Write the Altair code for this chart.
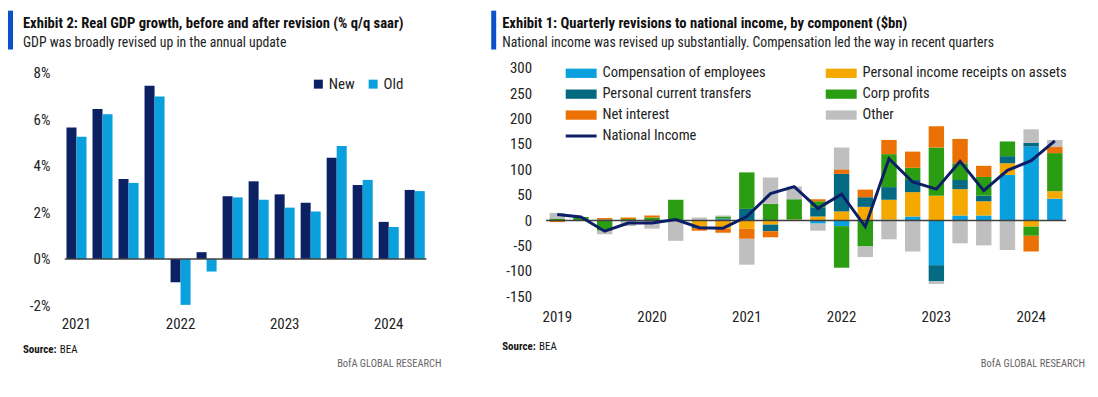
import altair as alt
import pandas as pd

FONT = "Liberation Sans Narrow, Arial Narrow, Roboto Condensed, sans-serif"

# ---------------- Left chart data: Real GDP growth (% q/q saar) ----------------
gdp_quarters = ["2021Q1", "2021Q2", "2021Q3", "2021Q4", "2022Q1", "2022Q2", "2022Q3",
                "2022Q4", "2023Q1", "2023Q2", "2023Q3", "2023Q4", "2024Q1", "2024Q2"]
gdp_new = [5.64, 6.43, 3.43, 7.43, -1.0, 0.29, 2.69, 3.33, 2.77, 2.41, 4.34, 3.17, 1.59, 2.96]
gdp_old = [5.24, 6.21, 3.26, 6.97, -1.97, -0.54, 2.64, 2.54, 2.2, 2.03, 4.84, 3.39, 1.37, 2.91]
gdp_series = ["New", "Old"]
gdp_colors = ["#0C2164", "#0AA0DE"]
gdp_ticks = [-2, 0, 2, 4, 6, 8]

# ---------------- Right chart data: revisions to national income ($bn) ----------------
ni_quarters = [f"{y}Q{q}" for y in range(2019, 2025) for q in range(1, 5)][:22]
comp_employees = [0, 0, 0, 0, 0, 0, 0, 2, 0, 0, 0, -6, -11, 0, 2, 8, -88, 10, 10, 90, 146, 43]
receipts_assets = [0, 0, 0, 0, 0, 0, -12, -16, -16, -8, 2, 8, 18, 27, 39, 48, 49, 52, 28, 23, -12, 15]
current_transfers = [0, 0, 2, 1, 1, 0, -3, 2, 23, -13, 0, 18, 74, 19, 25, 24, -32, 18, 11, 14, 7, 0]
corp_profits = [4, 7, -20, 2, 5, 41, 0, 4, 72, 33, 40, 12, -82, -51, 65, 24, 95, 33, 37, 29, -18, 75]
net_interest = [-3, 0, 3, 3, 4, -1, -5, -8, -20, -12, 0, 4, 9, 15, 28, 32, 42, 48, 22, 0, -31, 12]
other = [11, 0, -7, -11, -16, -39, 6, 2, -51, 52, 25, -14, 43, -21, -37, -61, -5, -45, -49, -58, 27, 14]
national_income = [12, 7, -21, -5, -5, 2, -14, -15, 8, 53, 67, 24, 52, -12, 122, 76, 62, 117, 59, 99, 118, 157]

# stacking order (from zero outwards)
components = ["Compensation of employees", "Personal income receipts on assets",
              "Personal current transfers", "Corp profits", "Net interest", "Other"]
component_values = [comp_employees, receipts_assets, current_transfers, corp_profits, net_interest, other]
component_colors = ["#0A9FDD", "#F5A800", "#046A82", "#2A9D12", "#EC7105", "#BFBFBF"]
# legend order (legend grid fills column by column)
legend_order = [0, 2, 4, 1, 3, 5]
line_name = "National Income"
line_color = "#0C1F66"
ni_ticks = [-150, -100, -50, 0, 50, 100, 150, 200, 250, 300]

left_title = "Exhibit 2: Real GDP growth, before and after revision (% q/q saar)"
left_sub = "GDP was broadly revised up in the annual update"
right_title = "Exhibit 1: Quarterly revisions to national income, by component ($bn)"
right_sub = "National income was revised up substantially. Compensation led the way in recent quarters"

# ---------------- tables ----------------
gdp_df = pd.DataFrame(
    [{"q": q, "s": "New", "v": v} for q, v in zip(gdp_quarters, gdp_new)]
    + [{"q": q, "s": "Old", "v": v} for q, v in zip(gdp_quarters, gdp_old)]
)
ni_df = pd.DataFrame(
    [{"q": q, "c": c, "v": v, "ord": i}
     for i, (c, vals) in enumerate(zip(components, component_values))
     for q, v in zip(ni_quarters, vals)]
)
line_df = pd.DataFrame({"q": ni_quarters, "v": national_income, "s": line_name})
tick_df = pd.DataFrame({"v": ni_ticks, "lbl": [str(t) for t in ni_ticks]})
one = pd.DataFrame({"z": [0]})

legend_domain = [components[i] for i in legend_order]
legend_range = [component_colors[i] for i in legend_order]

year_label = "indexof(datum.label, 'Q1') >= 0 ? slice(datum.label, 0, 4) : ''"
LBL = 15


def text_layer(txt, x, y, size, weight="normal", color="#1a1a1a", align="left"):
    return alt.Chart(pd.DataFrame({"t": [txt]})).mark_text(
        align=align, baseline="alphabetic", fontSize=size, fontWeight=weight,
        color=color, font=FONT
    ).encode(text="t:N", x=alt.value(x), y=alt.value(y))


def header(title, sub, accent_x, title_x):
    accent = alt.Chart(one).mark_rect(color="#0A52C9").encode(
        x=alt.value(accent_x), x2=alt.value(accent_x + 5),
        y=alt.value(-58), y2=alt.value(-19))
    return [accent,
            text_layer(title, title_x, -41, 14.7, "bold", "#111111"),
            text_layer(sub, title_x, -22, 13.8, "normal", "#222222")]


def footer(src_x, src_y, bofa_x):
    return [text_layer("Source:", src_x, src_y, 11, "bold", "#111111"),
            text_layer("BEA", src_x + 37, src_y, 11, "normal", "#111111"),
            text_layer("BofA GLOBAL RESEARCH", bofa_x, 300, 10.5, "normal", "#666666", "right")]


# ---------------- Left panel ----------------
left_bars = alt.Chart(gdp_df).mark_bar().encode(
    x=alt.X("q:N", sort=gdp_quarters,
            scale=alt.Scale(paddingInner=0.23, paddingOuter=0.065),
            axis=alt.Axis(title=None, labelExpr=year_label, ticks=False, domain=False,
                          labelAngle=0, labelPadding=11, labelFontSize=LBL, labelColor="#222222")),
    xOffset=alt.XOffset("s:N", sort=gdp_series, scale=alt.Scale(paddingInner=0, paddingOuter=0)),
    y=alt.Y("v:Q", scale=alt.Scale(domain=[-2.0, 8.17], nice=False, zero=False),
            axis=alt.Axis(title=None, values=gdp_ticks, labelExpr="datum.value + '%'",
                          grid=False, domain=False, ticks=False, labelPadding=15,
                          labelOverlap=False, labelFontSize=LBL, labelColor="#222222")),
    color=alt.Color("s:N", scale=alt.Scale(domain=gdp_series, range=gdp_colors),
                    legend=alt.Legend(title=None, orient="none", legendX=247, legendY=8,
                                      direction="horizontal", symbolType="square", symbolSize=81,
                                      symbolStrokeWidth=0, labelFontSize=LBL, labelOffset=3,
                                      columnPadding=10, labelColor="#222222")),
)
left_zero = alt.Chart(one).mark_rule(color="#404040", strokeWidth=1.5).encode(y=alt.datum(0))

left = alt.layer(
    left_bars, left_zero,
    *header(left_title, left_sub, -57, -42),
    *footer(-42, 286, 378),
).properties(width=363, height=238)

# ---------------- Right panel ----------------
ni_y_axis = alt.Axis(title=None, values=ni_ticks, grid=False, domain=False, ticks=False,
                     labels=False)
ni_x_axis = alt.Axis(title=None, labelExpr=year_label, ticks=False, domain=False,
                     labelAngle=0, labelPadding=13, labelFontSize=LBL, labelColor="#222222")
ni_scale_y = alt.Scale(domain=[-150, 300], nice=False)

right_bars = alt.Chart(ni_df).mark_bar().encode(
    x=alt.X("q:N", sort=ni_quarters,
            scale=alt.Scale(paddingInner=0.35, paddingOuter=0.15), axis=ni_x_axis),
    y=alt.Y("v:Q", stack="zero", scale=ni_scale_y, axis=ni_y_axis),
    color=alt.Color("c:N", scale=alt.Scale(domain=legend_domain, range=legend_range),
                    legend=alt.Legend(title=None, orient="none", legendX=28, legendY=-2.5,
                                      columns=2, columnPadding=59, rowPadding=6,
                                      symbolType="M-3,-0.9H3V0.9H-3Z", symbolSize=107,
                                      symbolStrokeWidth=0, labelFontSize=14.6, labelOffset=14,
                                      labelColor="#222222", labelLimit=400)),
    order=alt.Order("ord:Q", sort="ascending"),
)
right_ticks = alt.Chart(tick_df).mark_text(
    align="right", baseline="middle", fontSize=LBL, color="#222222", font=FONT
).encode(y=alt.Y("v:Q", scale=ni_scale_y, axis=ni_y_axis), x=alt.value(-14), text="lbl:N")
right_zero = alt.Chart(one).mark_rule(color="#404040", strokeWidth=1.5).encode(y=alt.datum(0))
right_line = alt.Chart(line_df).mark_line(strokeWidth=3).encode(
    x=alt.X("q:N", sort=ni_quarters, axis=ni_x_axis),
    y=alt.Y("v:Q", stack=None, scale=ni_scale_y, axis=ni_y_axis),
    stroke=alt.Stroke("s:N", scale=alt.Scale(domain=[line_name], range=[line_color]),
                      legend=alt.Legend(title=None, orient="none", legendX=28, legendY=60.5,
                                        symbolType="M-3,0H3", symbolSize=107, symbolStrokeWidth=3,
                                        labelFontSize=14.6, labelOffset=14, labelColor="#222222",
                                        labelLimit=400)),
)

right = alt.layer(
    right_bars, right_ticks, right_zero, right_line,
    *header(right_title, right_sub, -55, -44),
    *footer(-44, 283, 541),
).properties(width=522, height=229)

chart = alt.hconcat(left, right, spacing=120, bounds="flush").resolve_scale(
    color="independent", stroke="independent"
).resolve_legend(
    color="independent", stroke="independent"
).properties(
    padding={"left": 0, "top": 2, "right": 5, "bottom": 5}
).configure(font=FONT).configure_view(stroke=None).configure_axis(labelOverlap=False)

chart.save("out.html", embed_options={"renderer": "svg", "actions": False})
